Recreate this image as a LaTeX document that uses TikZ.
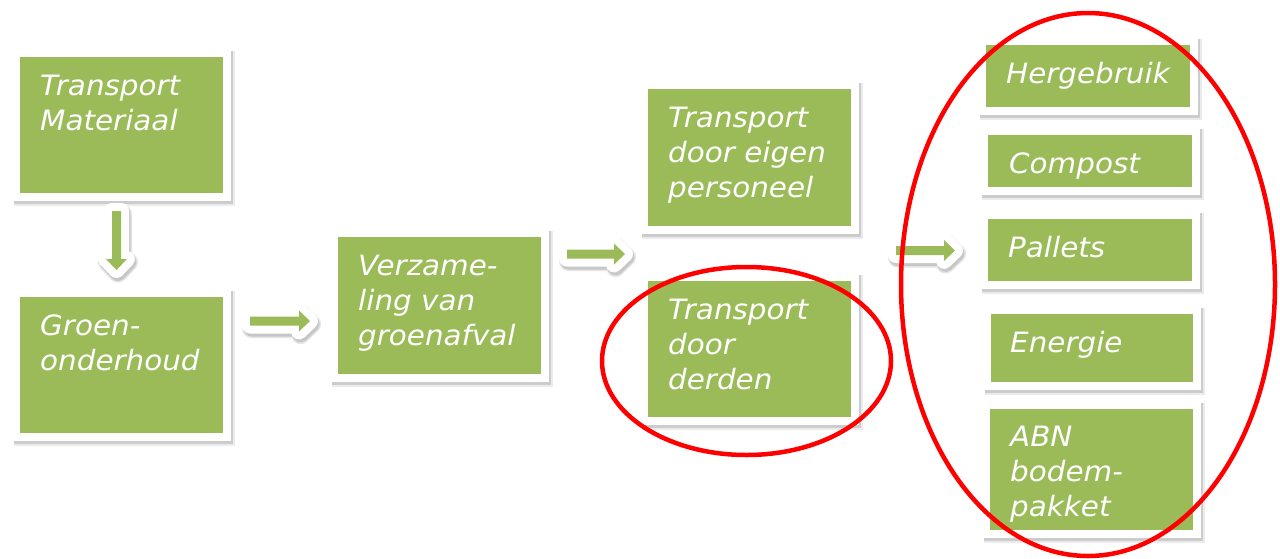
\documentclass[tikz,border=0pt]{standalone}
\usepackage{fontspec}
\newfontfamily\vfont{DejaVu Sans}[FakeStretch=1.05]
\usetikzlibrary{backgrounds,calc}
\definecolor{grn}{HTML}{9BBB59}
\newcommand\myGreenFrame[1]{%
  \fill[black!8] ([shift={(-6,-6)}]#1.north west) rectangle ([shift={(11.5,12.5)}]#1.south east);
  \fill[black!20] ([shift={(-6,-6)}]#1.north west) rectangle ([shift={(10,11)}]#1.south east);
  \fill[white] ([shift={(-8,-8)}]#1.north west) rectangle ([shift={(8,8)}]#1.south east);
}
\newcommand\myBlockArrow[3]{% start, angle, length
  \begin{scope}[shift={#1}]
    \begin{scope}[shift={(1.5,3)}, rotate=#2]
      \path[fill=black!10, draw=black!10, line width=19pt, line join=round]
        (0,-4.5) -- (#3-11,-4.5) -- (#3-11,-10.5) -- (#3,0) -- (#3-11,10.5) -- (#3-11,4.5) -- (0,4.5) -- cycle;
      \path[fill=black!22, draw=black!22, line width=16pt, line join=round]
        (0,-4.5) -- (#3-11,-4.5) -- (#3-11,-10.5) -- (#3,0) -- (#3-11,10.5) -- (#3-11,4.5) -- (0,4.5) -- cycle;
    \end{scope}
    \begin{scope}[rotate=#2]
      \path[fill=white, draw=white, line width=16pt, line join=round]
        (0,-4.5) -- (#3-11,-4.5) -- (#3-11,-10.5) -- (#3,0) -- (#3-11,10.5) -- (#3-11,4.5) -- (0,4.5) -- cycle;
      \path[fill=grn]
        (0,-4.5) -- (#3-11,-4.5) -- (#3-11,-10.5) -- (#3,0) -- (#3-11,10.5) -- (#3-11,4.5) -- (0,4.5) -- cycle;
    \end{scope}
  \end{scope}
}
\begin{document}
\begin{tikzpicture}[x=1pt,y=-1pt,
  gbox/.style={rectangle, fill=grn, draw=none, inner sep=0pt, anchor=north west},
  txt/.style={anchor=base west, inner sep=0pt, align=left, text=white,
    font=\vfont\itshape\fontsize{28}{35}\selectfont},
  ell/.style={draw=red, line width=4.5pt}]
\useasboundingbox (0,0) rectangle (1280,558);

% green boxes
\node[gbox, minimum width=203pt, minimum height=136pt] (b1) at (20,57) {};
\node[gbox, minimum width=203pt, minimum height=136pt] (b2) at (20,297) {};
\node[gbox, minimum width=203pt, minimum height=137pt] (b3) at (338,237) {};
\node[gbox, minimum width=203pt, minimum height=137pt] (b4) at (648,89) {};
\node[gbox, minimum width=203pt, minimum height=136pt] (b5) at (648,281) {};
\node[gbox, minimum width=204pt, minimum height=62pt] (r1) at (986,45) {};
\node[gbox, minimum width=204pt, minimum height=52pt] (r2) at (988,135) {};
\node[gbox, minimum width=204pt, minimum height=62pt] (r3) at (988,219) {};
\node[gbox, minimum width=202pt, minimum height=68pt] (r4) at (991,314) {};
\node[gbox, minimum width=203pt, minimum height=121pt] (r5) at (990,409) {};

\begin{scope}[on background layer]
  \fill[white] (0,0) rectangle (1280,558);
  \foreach \b in {b1,b2,b3,b4,b5,r1,r2,r3,r4,r5} {\myGreenFrame{\b}}
\end{scope}

% texts (anchor = baseline of the last line)
\node[txt] (t1) at ([shift={(20,73)}]b1.north west) {Transport\\Materiaal};
\node[txt] (t2) at ([shift={(20,73)}]b2.north west) {Groen-\\onderhoud};
\node[txt] (t3) at ([shift={(20,108)}]b3.north west) {Verzame-\\ling van\\groenafval};
\node[txt] (t4) at ([shift={(20,108)}]b4.north west) {Transport\\door eigen\\personeel};
\node[txt] (t5) at ([shift={(20,108)}]b5.north west) {Transport\\door\\derden};
\node[txt] (u1) at ([shift={(20,38)}]r1.north west) {Hergebruik};
\node[txt] (u2) at ([shift={(21,38)}]r2.north west) {Compost};
\node[txt] (u3) at ([shift={(20,38)}]r3.north west) {Pallets};
\node[txt] (u4) at ([shift={(19,38)}]r4.north west) {Energie};
\node[txt] (u5) at ([shift={(20,107)}]r5.north west) {ABN\\bodem-\\pakket};

% block arrows
\myBlockArrow{(116.5,211)}{-90}{59}
\myBlockArrow{(250,321)}{0}{60}
\myBlockArrow{(567,254)}{0}{58}
\myBlockArrow{(896,250.5)}{0}{59}

% red ellipses
\draw[ell] (746.5,361) ellipse [x radius=144.5pt, y radius=94pt];
\draw[ell] (1088,284.5) ellipse [x radius=187pt, y radius=271.5pt];
\end{tikzpicture}
\end{document}
